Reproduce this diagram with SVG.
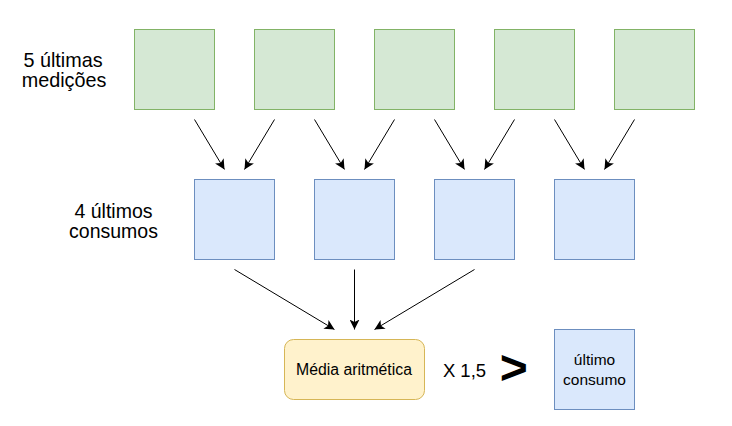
<svg xmlns="http://www.w3.org/2000/svg" width="732" height="426" viewBox="0 0 732 426">
<defs>
<marker id="ah" viewBox="0 0 10 10" refX="10" refY="5" markerWidth="10" markerHeight="10" markerUnits="userSpaceOnUse" orient="auto">
<path d="M0,0 L10,5 L0,10 L2.5,5 Z" fill="#000"/>
</marker>
</defs>
<style>
.g{fill:#d5e8d4;stroke:#82b366;stroke-width:1}
.b{fill:#dae8fc;stroke:#6c8ebf;stroke-width:1}
.y{fill:#fff2cc;stroke:#d6b656;stroke-width:1}
.t{font-family:"Liberation Sans",Arial,sans-serif;fill:#000;text-anchor:middle}
.c line{stroke:#000;stroke-width:1;marker-end:url(#ah)}
</style>
<rect width="732" height="426" fill="#fff"/>
<g id="label-medicoes"><text class="t" font-size="19.8" x="63" y="66.5">5 últimas</text><text class="t" font-size="19.8" x="64" y="86.5">medições</text></g>
<g id="label-consumos"><text class="t" font-size="19.5" x="113.5" y="218.3">4 últimos</text><text class="t" font-size="19.5" x="113.5" y="238.3">consumos</text></g>
<g id="m1"><rect class="g" x="134.5" y="29.5" width="80" height="80"/></g>
<g id="m2"><rect class="g" x="254.5" y="29.5" width="80" height="80"/></g>
<g id="m3"><rect class="g" x="374.5" y="29.5" width="80" height="80"/></g>
<g id="m4"><rect class="g" x="494.5" y="29.5" width="80" height="80"/></g>
<g id="m5"><rect class="g" x="614.5" y="29.5" width="80" height="80"/></g>
<g id="c1"><rect class="b" x="194.5" y="179.5" width="80" height="80"/></g>
<g id="c2"><rect class="b" x="314.5" y="179.5" width="80" height="80"/></g>
<g id="c3"><rect class="b" x="434.5" y="179.5" width="80" height="80"/></g>
<g id="c4"><rect class="b" x="554.5" y="179.5" width="80" height="80"/></g>
<g id="media"><rect class="y" x="284.5" y="339.5" width="140" height="60" rx="9"/><text class="t" font-size="15.8" x="354" y="375">Média aritmética</text></g>
<g id="fator"><text class="t" font-size="18.5" x="464.5" y="376.7">X 1,5</text></g>
<g id="maior"><text class="t" font-size="48" font-weight="bold" x="513.7" y="384">&gt;</text></g>
<g id="ultimo"><rect class="b" x="554.5" y="329.5" width="80" height="80"/><text class="t" font-size="15.5" x="594.5" y="365">último</text><text class="t" font-size="15.5" x="594.5" y="385">consumo</text></g>
<g id="connectors" class="c">
<line x1="194.5" y1="119.5" x2="224.5" y2="169.5"/>
<line x1="274.5" y1="119.5" x2="244.5" y2="169.5"/>
<line x1="314.5" y1="119.5" x2="344.5" y2="169.5"/>
<line x1="394.5" y1="119.5" x2="364.5" y2="169.5"/>
<line x1="434.5" y1="119.5" x2="464.5" y2="169.5"/>
<line x1="514.5" y1="119.5" x2="484.5" y2="169.5"/>
<line x1="554.5" y1="119.5" x2="584.5" y2="169.5"/>
<line x1="634.5" y1="119.5" x2="604.5" y2="169.5"/>
<line x1="234.5" y1="269.5" x2="334.5" y2="329.5"/>
<line x1="354.5" y1="269.5" x2="354.5" y2="329.5"/>
<line x1="474.5" y1="269.5" x2="374.5" y2="329.5"/>
</g>
</svg>
